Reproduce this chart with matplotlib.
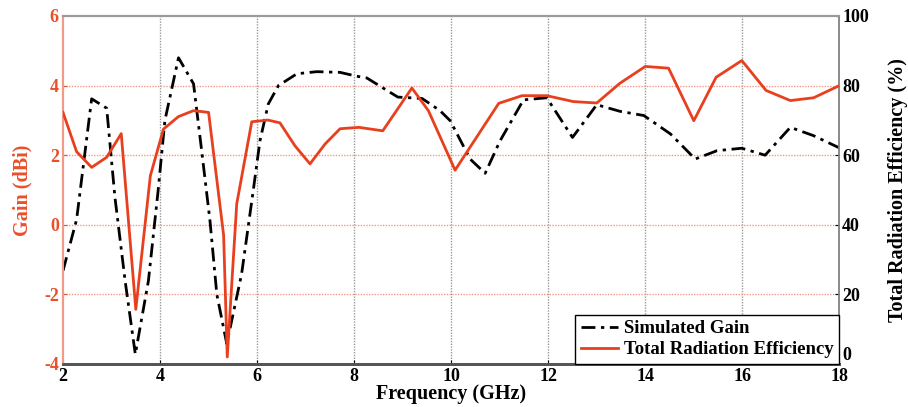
import matplotlib
matplotlib.use("Agg")
import matplotlib.pyplot as plt

# Simulated gain (dBi) versus frequency (GHz)
gain_freq = [2.0, 2.28, 2.59, 2.9, 3.07, 3.28, 3.49, 3.76, 3.96, 4.1, 4.38, 4.69,
             4.86, 5.03, 5.17, 5.375, 5.68, 5.92, 6.06, 6.23, 6.44, 6.82, 7.23,
             7.71, 8.05, 8.26, 8.9, 9.4, 9.77, 9.98, 10.39, 10.7, 11.01, 11.49,
             11.97, 12.5, 13.0, 13.48, 13.97, 14.52, 15.03, 15.48, 15.99, 16.47,
             16.99, 17.47, 18.0]
gain_dbi = [-1.32, 0.15, 3.62, 3.35, 0.79, -1.61, -3.72, -1.61, 0.98, 3.0, 4.8, 4.05,
            2.1, 0.1, -2.0, -3.42, -1.42, 0.98, 2.42, 3.47, 4.0, 4.34, 4.4,
            4.38, 4.27, 4.22, 3.67, 3.63, 3.28, 2.99, 1.89, 1.48, 2.42, 3.59,
            3.65, 2.51, 3.45, 3.26, 3.14, 2.61, 1.89, 2.13, 2.2, 2.0,
            2.8, 2.56, 2.21]

# Total radiation efficiency (%) versus frequency (GHz)
eff_freq = [2.0, 2.28, 2.59, 2.9, 3.2, 3.5, 3.8, 4.07, 4.38, 4.69, 5.0, 5.31,
            5.385, 5.58, 5.89, 6.22, 6.47, 6.78, 7.09, 7.4, 7.71, 8.1, 8.59,
            9.19, 9.53, 10.08, 10.98, 11.46, 11.97, 12.52, 13.0, 13.48, 14.0,
            14.48, 15.0, 15.46, 15.99, 16.49, 16.99, 17.47, 18.0]
eff_pct = [72.3, 61.0, 56.5, 59.4, 66.2, 15.7, 54.1, 67.5, 71.1, 72.8, 72.3, 37.0,
           2.0, 46.0, 69.6, 70.1, 69.3, 62.7, 57.5, 63.2, 67.6, 68.0, 67.0,
           79.3, 72.8, 55.7, 74.9, 77.1, 77.1, 75.4, 75.0, 80.7, 85.5,
           85.0, 69.9, 82.4, 87.2, 78.6, 75.7, 76.5, 80.0]

x_ticks = [2, 4, 6, 8, 10, 12, 14, 16, 18]
gain_ticks = [-4, -2, 0, 2, 4, 6]
eff_ticks = [0, 20, 40, 60, 80, 100]

RED = "#e8401e"
RED_TEXT = "#e8502a"
RED_GRID = "#f29a88"

plt.rcParams["font.family"] = ["Liberation Serif", "DejaVu Serif"]
plt.rcParams["font.weight"] = "bold"
plt.rcParams["axes.unicode_minus"] = False

fig = plt.figure(figsize=(9.08, 4.07), dpi=100)
ax = fig.add_axes([0.0694, 0.1057, 0.855, 0.855])
ax2 = ax.twinx()

# Gain curve on the left axis
l1, = ax.plot(gain_freq, gain_dbi, color="black", lw=2.0,
              linestyle=(0, (5, 2, 1.2, 2)), label="Simulated Gain", zorder=3)
# Efficiency curve on the right axis
l2, = ax2.plot(eff_freq, eff_pct, color=RED, lw=2.0,
               label="Total Radiation Efficiency", zorder=3)

ax.set_xlim(2, 18)
ax.set_ylim(-4, 6)
ax2.set_ylim(0, 100)
ax.set_xticks(x_ticks)
ax.set_yticks(gain_ticks)
ax2.set_yticks(eff_ticks)

# Grid: grey dotted verticals, red dotted horizontals
for xv in x_ticks[1:-1]:
    ax.axvline(xv, color="#9a9a9a", lw=1.0, linestyle=(0, (1, 1)), zorder=1)
for yv in gain_ticks[1:-1]:
    ax.axhline(yv, color=RED_GRID, lw=1.0, linestyle=(0, (1, 1)), zorder=1)

ax.tick_params(axis="x", direction="in", length=3, labelsize=13, pad=3,
               colors="black")
ax.tick_params(axis="y", direction="in", length=3, labelsize=13,
               colors=RED_TEXT, pad=3)
ax2.tick_params(axis="y", direction="in", length=3, labelsize=13,
                colors="black", pad=2)
for lab in ax.get_xticklabels() + ax.get_yticklabels() + ax2.get_yticklabels():
    lab.set_fontweight("bold")
for lab in ax.get_yticklabels():
    lab.set_color(RED_TEXT)
# lift the bottom right-axis label so it clears the last frequency label
ax2.get_yticklabels()[0].set_verticalalignment("bottom")

for a in (ax, ax2):
    a.spines["top"].set_color("#9a9a9a")
    a.spines["top"].set_linewidth(1.5)
    a.spines["right"].set_color("#8a8a8a")
    a.spines["right"].set_linewidth(1.2)
    a.spines["left"].set_color(RED_GRID)
    a.spines["left"].set_linewidth(1.5)
    a.spines["bottom"].set_color("#555555")
    a.spines["bottom"].set_linewidth(2.0)

ax.set_xlabel("Frequency (GHz)", fontsize=14.5, fontweight="bold", labelpad=-1)
ax.set_ylabel("Gain (dBi)", fontsize=14.5, fontweight="bold", color=RED_TEXT,
              labelpad=8)
ax2.set_ylabel("Total Radiation Efficiency (%)", fontsize=14.5, fontweight="bold",
               labelpad=14)

leg = ax2.legend(handles=[l1, l2], loc="lower right", borderaxespad=0,
                 fancybox=False, framealpha=1, edgecolor="black",
                 prop={"family": ["Liberation Serif"], "weight": "bold", "size": 13.5},
                 handlelength=2.0, handletextpad=0.3, labelspacing=0.2,
                 borderpad=0.3)
leg.get_frame().set_linewidth(1.0)

fig.savefig("out.png", dpi=100)
